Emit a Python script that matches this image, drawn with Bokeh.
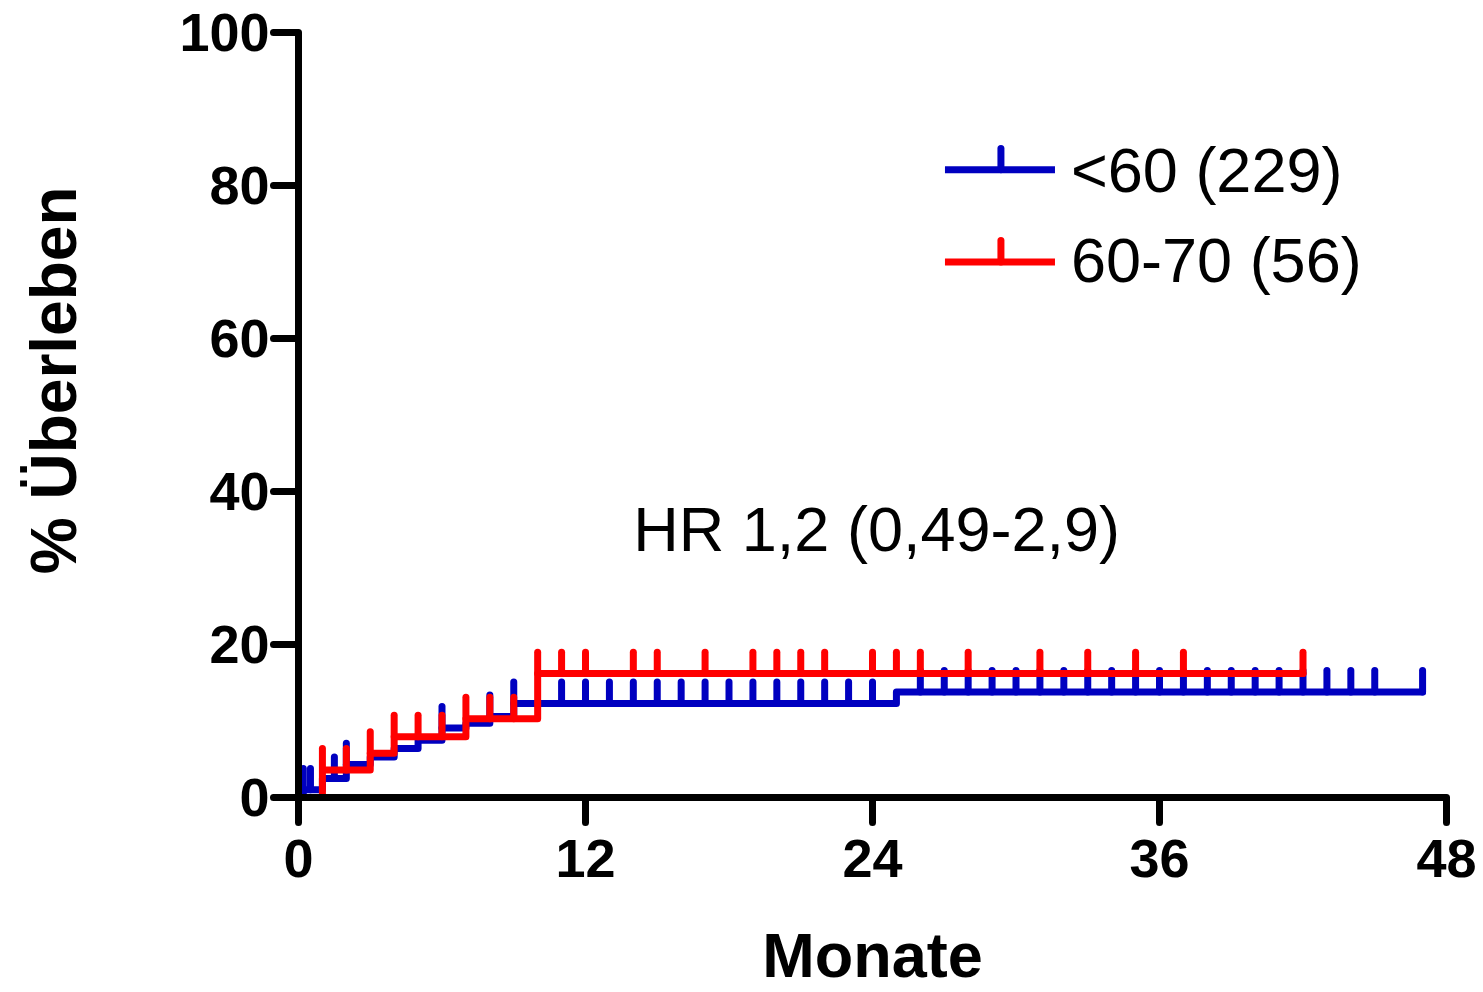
import numpy as np
from bokeh.plotting import figure
from bokeh.models import Range1d, Label, FixedTicker, ColumnDataSource, Title
from bokeh.embed import file_html
from bokeh.resources import INLINE

# ---------------- data ----------------
x_ticks = [0, 12, 24, 36, 48]
y_ticks = [0, 20, 40, 60, 80, 100]

blue_name = "<60 (229)"
blue_step_t = [0, 0.2, 1, 2, 3, 4, 5, 6, 7, 8, 9, 25]
blue_step_v = [0, 1.0, 2.5, 4.3, 5.3, 6.4, 7.5, 9.1, 9.7, 10.6, 12.3, 13.8]
blue_end = 47
blue_censor = [0.2, 0.5, 1.5, 2, 6, 8, 9, 11, 12, 13, 14, 15, 16, 17, 18, 19, 20,
               21, 22, 23, 24, 26, 27, 28, 29, 30, 31, 32, 33, 34, 35, 36, 37,
               38, 39, 40, 41, 42, 43, 44, 45, 47]

red_name = "60-70 (56)"
red_step_t = [0, 1, 3, 4, 7, 10]
red_step_v = [0, 3.6, 5.8, 7.95, 10.3, 16.2]
red_end = 42
red_censor = [1, 2, 3, 4, 5, 6, 7, 8, 9, 10, 11, 12, 14, 15, 17, 19, 20, 21, 22,
              24, 25, 26, 28, 31, 33, 35, 37, 42]

hr_text = "HR 1,2 (0,49-2,9)"
x_title = "Monate"
y_title = "% Überleben"

# ---------------- style ----------------
BLUE = "#0000C0"
RED = "#FF0000"
LW = 7
TICK_LEN = 2.8
FONT = "Liberation Sans"
LABEL_SHIFT = 3.0  # compensates the baseline offset of Label text

p = figure(width=1483, height=992, output_backend="svg", toolbar_location=None,
           x_range=Range1d(0, 48), y_range=Range1d(0, 100),
           min_border_left=298, min_border_right=37, min_border_top=32,
           min_border_bottom=193)
p.grid.visible = False
p.outline_line_color = None
p.background_fill_color = "white"
p.border_fill_color = "white"

p.xaxis.ticker = FixedTicker(ticks=x_ticks)
p.yaxis.ticker = FixedTicker(ticks=y_ticks)
for ax in (p.xaxis[0], p.yaxis[0]):
    ax.axis_line_width = LW
    ax.axis_line_color = "black"
    ax.major_tick_line_width = LW
    ax.major_tick_line_color = "black"
    ax.major_tick_line_cap = "round"
    ax.major_tick_out = 25
    ax.major_tick_in = 0
    ax.minor_tick_out = 0
    ax.minor_tick_in = 0
    ax.major_label_text_font = FONT
    ax.major_label_text_font_style = "bold"
    ax.major_label_text_font_size = "54px"
    ax.major_label_text_color = "black"
p.xaxis.major_label_standoff = 17
p.yaxis.major_label_standoff = 4

p.xaxis.axis_label = x_title
p.xaxis.axis_label_text_font = FONT
p.xaxis.axis_label_text_font_style = "bold"
p.xaxis.axis_label_text_font_size = "63px"
p.xaxis.axis_label_text_color = "black"
p.xaxis.axis_label_standoff = 40

# blank, tiny y-axis label used only as a gap between tick labels and the title
p.yaxis.axis_label = " "
p.yaxis.axis_label_text_font_size = "1px"
p.yaxis.axis_label_standoff = 78

ytitle = Title(text=y_title, align="right", offset=154, standoff=10,
               text_font=FONT, text_font_style="bold", text_font_size="64px",
               text_color="black")
p.add_layout(ytitle, "left")


def add_curve(step_t, step_v, end, censor, color):
    t = list(step_t) + [end]
    v = list(step_v) + [step_v[-1]]
    p.step(x=t, y=v, mode="after", line_color=color, line_width=LW,
           line_join="round", line_cap="round")
    ta = np.array(step_t, dtype=float)
    va = np.array(step_v, dtype=float)
    c = np.array(censor, dtype=float)
    idx = np.searchsorted(ta, c, side="right") - 1
    base = va[idx]
    src = ColumnDataSource(dict(x=c, y0=base, y1=base + TICK_LEN))
    p.segment(x0="x", y0="y0", x1="x", y1="y1", source=src, line_color=color,
              line_width=LW, line_cap="round")


add_curve(blue_step_t, blue_step_v, blue_end, blue_censor, BLUE)
add_curve(red_step_t, red_step_v, red_end, red_censor, RED)

# ---------------- legend (manual, Prism style) ----------------
LEG_X0, LEG_X1, LEG_TICK_X, LEG_TEXT_X = 27.03, 31.63, 29.37, 32.3
for name, color, ly, ty in [(blue_name, BLUE, 82.05, 79.0), (red_name, RED, 70.0, 67.3)]:
    p.segment(x0=[LEG_X0], y0=[ly], x1=[LEG_X1], y1=[ly], line_color=color,
              line_width=LW, line_cap="butt")
    p.segment(x0=[LEG_TICK_X], y0=[ly], x1=[LEG_TICK_X], y1=[ly + TICK_LEN],
              line_color=color, line_width=LW, line_cap="round")
    p.add_layout(Label(x=LEG_TEXT_X, y=ty + LABEL_SHIFT, text=name, text_font=FONT,
                       text_font_size="63px", text_color="black",
                       text_align="left", text_baseline="alphabetic"))

p.add_layout(Label(x=14.0, y=32.1 + LABEL_SHIFT, text=hr_text, text_font=FONT,
                   text_font_size="63px", text_color="black",
                   text_align="left", text_baseline="alphabetic"))

open("out.html", "w").write(file_html(p, INLINE))
